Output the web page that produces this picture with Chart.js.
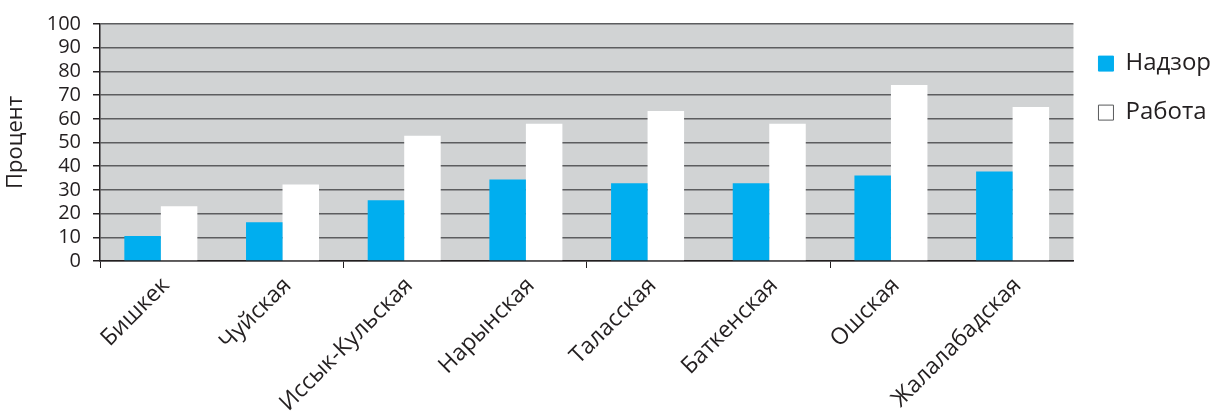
<!DOCTYPE html>
<html>
<head>
<meta charset="utf-8">
<script src="https://cdn.jsdelivr.net/npm/chart.js@4.4.0/dist/chart.umd.min.js"></script>
<style>
    html, body { margin: 0; padding: 0; background: #fff; }
    #wrap { width: 1214px; height: 411px; position: relative; }
</style>
</head>
<body>
<div id="wrap"><canvas id="chart"></canvas></div>
<script>
// Data
const regions = ['Бишкек', 'Чуйская', 'Иссык-Кульская', 'Нарынская', 'Таласская', 'Баткенская', 'Ошская', 'Жалалабадская'];
const supervision = [10.6, 16.4, 25.6, 34.4, 32.8, 32.8, 36.1, 37.8];
const work = [23.1, 32.3, 52.8, 57.9, 63.3, 57.9, 74.3, 65.0];
const seriesNames = ['Надзор', 'Работа'];
const yTitle = 'Процент';

// Colours
const colors = {
    blue: '#00aeef',
    white: '#ffffff',
    plotBg: '#d1d3d4',
    grid: '#5c5d5f',
    axis: '#231f20',
    text: '#231f20'
};
const fontFamily = '"Open Sans", "Noto Sans", sans-serif';

// Grey plot background
const plotBackground = {
    id: 'plotBackground',
    beforeDraw(chart) {
        const { ctx, chartArea: a } = chart;
        ctx.save();
        ctx.fillStyle = colors.plotBg;
        ctx.fillRect(a.left, a.top, a.right - a.left, a.bottom - a.top);
        ctx.restore();
    }
};

new Chart(document.getElementById('chart').getContext('2d'), {
    type: 'bar',
    data: {
        labels: regions,
        datasets: [
            { label: seriesNames[0], data: supervision, backgroundColor: colors.blue, borderWidth: 0 },
            { label: seriesNames[1], data: work, backgroundColor: colors.white, borderWidth: 0 }
        ]
    },
    options: {
        responsive: true,
        maintainAspectRatio: false,
        animation: false,
        layout: { padding: { top: 11, right: -7, left: 0, bottom: 0 } },
        datasets: { bar: { categoryPercentage: 0.6, barPercentage: 1.0 } },
        plugins: {
            tooltip: { enabled: false },
            legend: {
                position: 'right',
                align: 'start',
                // blank title only pushes the entries down
                title: { display: true, text: ' ', padding: 0, font: { size: 13 } },
                labels: {
                    color: colors.text,
                    font: { family: fontFamily, size: 24 },
                    boxWidth: 15,
                    boxHeight: 15,
                    padding: 25,
                    generateLabels: (chart) => chart.data.datasets.map((ds, i) => ({
                        text: ds.label,
                        fillStyle: ds.backgroundColor,
                        strokeStyle: i === 0 ? colors.blue : '#58595b',
                        lineWidth: 1,
                        fontColor: colors.text,
                        datasetIndex: i
                    }))
                }
            }
        },
        scales: {
            x: {
                offset: true,
                afterFit: (scale) => { scale.height = 150; },
                grid: {
                    offset: true,
                    drawOnChartArea: false,
                    tickLength: 7,
                    color: (c) => (c.index % 2 === 0 ? colors.axis : 'rgba(0,0,0,0)')
                },
                border: { display: true, color: colors.axis, width: 1.5 },
                ticks: {
                    autoSkip: false,
                    minRotation: 45,
                    maxRotation: 45,
                    labelOffset: 5,
                    padding: 4,
                    color: colors.text,
                    font: { family: fontFamily, size: 23 }
                }
            },
            y: {
                min: 0,
                max: 100,
                afterFit: (scale) => { scale.width = 100; },
                ticks: {
                    autoSkip: false,
                    stepSize: 10,
                    padding: 12,
                    color: colors.text,
                    font: { family: fontFamily, size: 20 }
                },
                grid: {
                    color: colors.grid,
                    lineWidth: 1.5,
                    tickLength: 7,
                    tickColor: colors.axis
                },
                border: { display: true, color: colors.axis, width: 1.5 },
                title: {
                    display: true,
                    text: yTitle,
                    color: colors.text,
                    font: { family: fontFamily, size: 22 },
                    padding: { top: 3, bottom: 0 }
                }
            }
        }
    },
    plugins: [plotBackground]
});
</script>
</body>
</html>
